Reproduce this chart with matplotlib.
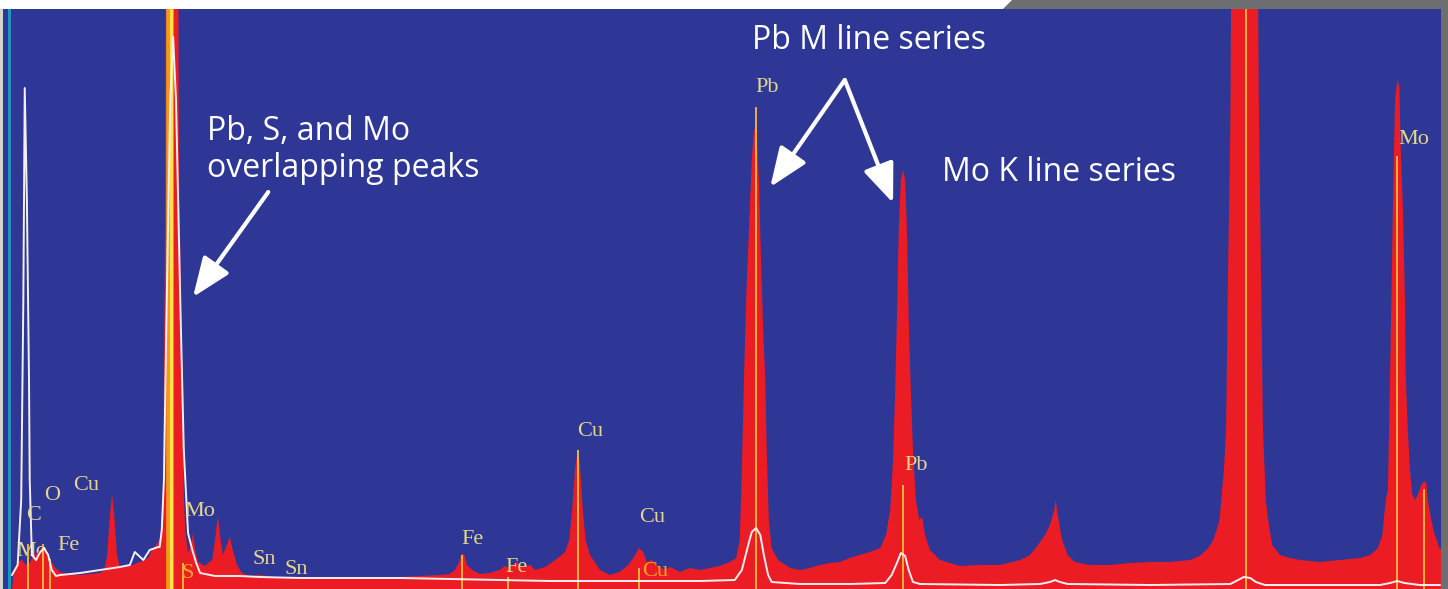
import matplotlib
matplotlib.use("Agg")
import matplotlib.pyplot as plt
from matplotlib.patches import Rectangle, Polygon, FancyArrowPatch

# ---------------- data (energy in keV, counts in display units) ----------------
spec_energy = [0.07, 0.10, 0.15, 0.21, 0.27, 0.32, 0.38, 0.44, 0.49, 0.55, 0.61, 0.68, 0.75,
               0.89, 1.03, 1.17, 1.31, 1.37, 1.41, 1.45, 1.48, 1.51, 1.55, 1.59, 1.73, 1.87,
               1.99, 2.04, 2.10, 2.15, 2.18, 2.20, 2.21, 2.23, 2.24, 2.41, 2.42, 2.45, 2.48,
               2.49, 2.51, 2.55, 2.59, 2.62, 2.65, 2.69, 2.79, 2.89, 2.93, 2.97, 3.00, 3.04,
               3.08, 3.14, 3.18, 3.24, 3.31, 3.42, 3.56, 3.85, 4.13, 4.41, 4.69, 4.97, 5.25,
               5.54, 5.82, 6.10, 6.24, 6.31, 6.37, 6.41, 6.44, 6.48, 6.55, 6.66, 6.80, 6.94,
               7.01, 7.08, 7.18, 7.25, 7.37, 7.44, 7.58, 7.68, 7.76, 7.86, 7.92, 7.96, 8.00,
               8.04, 8.07, 8.11, 8.15, 8.21, 8.28, 8.35, 8.49, 8.63, 8.75, 8.85, 8.90, 8.96,
               9.01, 9.08, 9.14, 9.27, 9.34, 9.48, 9.62, 9.76, 9.90, 10.04, 10.18, 10.27,
               10.32, 10.35, 10.38, 10.41, 10.45, 10.49, 10.52, 10.56, 10.59, 10.62, 10.65,
               10.68, 10.70, 10.73, 10.77, 10.86, 11.03, 11.17, 11.31, 11.45, 11.59, 11.73,
               11.87, 12.01, 12.15, 12.30, 12.38, 12.44, 12.48, 12.51, 12.54, 12.56, 12.59,
               12.62, 12.65, 12.68, 12.70, 12.73, 12.76, 12.80, 12.85, 12.89, 12.93, 13.00,
               13.07, 13.14, 13.28, 13.42, 13.70, 13.99, 14.27, 14.41, 14.52, 14.62, 14.69,
               14.75, 14.77, 14.80, 14.86, 14.94, 15.04, 15.25, 15.54, 15.82, 16.10, 16.38,
               16.66, 16.80, 16.92, 16.99, 17.06, 17.08, 17.14, 17.17, 17.20, 17.23, 17.25,
               17.61, 17.63, 17.66, 17.69, 17.73, 17.76, 17.82, 17.93, 18.07, 18.21, 18.49,
               18.77, 19.06, 19.20, 19.31, 19.37, 19.42, 19.45, 19.48, 19.51, 19.52, 19.55,
               19.58, 19.61, 19.63, 19.66, 19.69, 19.70, 19.73, 19.76, 19.79, 19.83, 19.87,
               19.92, 19.96, 19.99, 20.01, 20.06, 20.11, 20.18, 20.21]
spec_counts = [0, 19, 27, 29, 24, 26, 33, 37, 41, 39, 29, 21, 17,
               14, 14, 15, 16, 19, 33, 74, 95, 74, 33, 22, 23, 27,
               31, 39, 44, 49, 69, 105, 209, 389, 700, 700, 439, 289, 169,
               94, 59, 36, 44, 56, 39, 27, 23, 29, 49, 73, 54, 34,
               41, 52, 39, 24, 16, 13, 14, 11, 12, 11, 11, 12, 11,
               12, 13, 14, 15, 19, 27, 36, 34, 24, 19, 15, 16, 19,
               23, 21, 27, 22, 24, 19, 22, 27, 31, 37, 49, 79, 119,
               139, 124, 79, 49, 34, 27, 19, 14, 17, 24, 34, 41, 37,
               27, 29, 24, 19, 22, 17, 21, 19, 21, 23, 27, 31,
               49, 119, 209, 289, 359, 429, 459, 459, 409, 329, 259,
               209, 139, 69, 41, 29, 21, 19, 21, 24, 26, 27,
               31, 34, 37, 41, 54, 79, 129, 199, 289, 359, 409,
               419, 409, 349, 269, 199, 139, 89, 69, 72, 54, 39,
               34, 29, 26, 23, 24, 24, 29, 34, 44, 54, 64,
               79, 89, 74, 49, 34, 27, 24, 24, 26, 27, 27,
               29, 33, 41, 49, 64, 71, 119, 159, 326, 459, 700,
               700, 499, 326, 159, 89, 70, 44, 34, 31, 29, 27,
               29, 31, 34, 41, 54, 89, 100, 213, 339, 382, 489,
               508, 504, 439, 382, 289, 213, 159, 119, 95, 89, 94,
               104, 108, 106, 89, 69, 54, 40, 40]

# overlay (reference) spectrum drawn as white trace
ref_energy = [0.07, 0.15, 0.20, 0.23, 0.25, 0.28, 0.31, 0.32, 0.35, 0.41, 0.46, 0.52, 0.58,
              0.63, 0.69, 0.75, 1.03, 1.31, 1.59, 1.73, 1.80, 1.92, 2.01, 2.13, 2.15, 2.18,
              2.21, 2.25, 2.30, 2.34, 2.38, 2.44, 2.49, 2.55, 2.61, 2.66, 2.72, 2.93, 3.28,
              3.56, 4.13, 4.83, 5.54, 6.24, 6.94, 7.65, 8.35, 9.06, 9.76, 10.25, 10.35,
              10.44, 10.49, 10.55, 10.61, 10.66, 10.72, 10.77, 11.17, 11.87, 12.37, 12.46,
              12.54, 12.59, 12.65, 12.70, 12.76, 12.86, 13.99, 14.55, 14.69, 14.76, 14.83,
              14.94, 16.10, 17.23, 17.34, 17.42, 17.51, 17.59, 17.72, 19.34, 19.48, 19.58,
              19.68, 19.90, 20.18]
ref_counts = [14, 24, 89, 289, 501, 389, 209, 109, 34, 29, 36, 41, 34,
              19, 13, 14, 16, 19, 22, 24, 37, 29, 39, 42, 42, 59,
              109, 289, 489, 552, 489, 289, 139, 56, 39, 27, 16, 13, 13,
              12, 11, 11, 11, 10, 9, 8, 8, 8, 8, 9, 19,
              44, 57, 61, 54, 34, 14, 7, 5, 5, 6, 14,
              27, 36, 33, 19, 7, 5, 4, 5, 7, 9, 7,
              5, 4, 5, 9, 12, 11, 7, 4, 4, 6, 8,
              6, 4, 4]

# element line markers: energy (keV) and marker height
marker_energy = [2.30, 10.55, 12.62, 17.45, 19.58, 19.96, 8.04, 8.90, 6.41, 7.06, 2.48, 0.30, 0.51, 0.61]
marker_top = [580, 482, 104, 580, 433, 100, 139, 21, 34, 12, 26, 45, 45, 30]

# element labels
elem_text = ["C", "O", "Cu", "Fe", "Mo", "Sn", "Sn", "Fe", "Fe", "Cu", "Cu", "Pb", "Pb", "Mo"]
elem_energy = [0.37, 0.63, 1.11, 0.86, 2.72, 3.62, 4.08, 6.55, 7.18, 8.21, 9.08, 10.70, 12.80, 19.82]
elem_counts = [74, 93, 103, 44, 77, 30, 19, 49, 21, 157, 71, 501, 123, 450]
inner_text = ["S", "Cu"]
inner_energy = [2.55, 9.13]
inner_counts = [16, 17]
hidden_text = ["Mo"]
hidden_energy = [0.35]
hidden_counts = [38]

# ---------------- figure ----------------
W, H = 1448, 589
fig = plt.figure(figsize=(W / 100, H / 100), dpi=100)
fig.patch.set_facecolor('white')

BLUE = '#2E3796'
RED = '#EC1C24'
LBL = '#E4D68A'
ORANGE = '#F5A623'

ax = fig.add_axes([0, 0, 1, 580 / 589])
ax.set_facecolor(BLUE)
ax.set_xlim(-0.0986, 20.296)
ax.set_ylim(0, 580)
ax.set_xticks([])
ax.set_yticks([])
for s in ax.spines.values():
    s.set_visible(False)

# label partly hidden behind the spectrum
for t, e, c in zip(hidden_text, hidden_energy, hidden_counts):
    ax.text(e, c, t, family='Liberation Serif', fontsize=16, color=LBL,
            ha='center', va='center', zorder=1.5)

ax.fill_between(spec_energy, spec_counts, 0, color=RED, lw=0, zorder=2)

# main overlap marker band
ax.vlines(marker_energy[0], 0, marker_top[0], colors='#F39A1E', lw=5.5, zorder=2.5)
ax.vlines(marker_energy[0] + 0.01, 0, marker_top[0], colors='#FCE14A', lw=2.2, zorder=2.6)
ax.vlines(marker_energy[1:], 0, marker_top[1:], colors='#F8BE3A', lw=1.3, zorder=3)

ax.plot(ref_energy, ref_counts, color='#F4F0F0', lw=1.4, zorder=4)

for t, e, c in zip(elem_text, elem_energy, elem_counts):
    ax.text(e, c, t, family='Liberation Serif', fontsize=16, color=LBL,
            ha='center', va='center', zorder=5)
for t, e, c in zip(inner_text, inner_energy, inner_counts):
    ax.text(e, c, t, family='Liberation Serif', fontsize=16, color=ORANGE,
            ha='center', va='center', zorder=5)

# annotations
ann = dict(family='Open Sans', fontsize=23, color='white', ha='left', va='baseline', zorder=6)
ax.text(2.82, 449, "Pb, S, and Mo", **ann)
ax.text(2.82, 412, "overlapping peaks", **ann)
ax.text(10.49, 540, "Pb M line series", **ann)
ax.text(13.17, 408, "Mo K line series", **ann)

for (x0, y0), (x1, y1) in [((3.68, 397), (2.62, 292)),
                           ((11.80, 509), (10.75, 402)),
                           ((11.80, 509), (12.48, 386))]:
    ax.add_patch(FancyArrowPatch((x0, y0), (x1, y1),
                                 arrowstyle='-|>,head_length=1.5,head_width=0.6',
                                 mutation_scale=16, color='white', lw=3,
                                 shrinkA=0, shrinkB=0, zorder=7))

# frame decorations of the screenshot
fig.add_artist(Rectangle((0, 0), 3 / W, 580 / H, transform=fig.transFigure,
                         color='#D6D3CB', lw=0))
fig.add_artist(Rectangle((7.5 / W, 0), 3 / W, 580 / H, transform=fig.transFigure,
                         color='#1C96BF', lw=0))
fig.add_artist(Rectangle((1441 / W, 0), 7 / W, 580 / H, transform=fig.transFigure,
                         color='#6D6E71', lw=0))
fig.add_artist(Polygon([(1003 / W, 580 / H), (1012 / W, 1), (1, 1), (1, 580 / H)],
                       closed=True, transform=fig.transFigure, color='#6D6E71', lw=0))

fig.savefig('out.png', dpi=100, facecolor='white')
